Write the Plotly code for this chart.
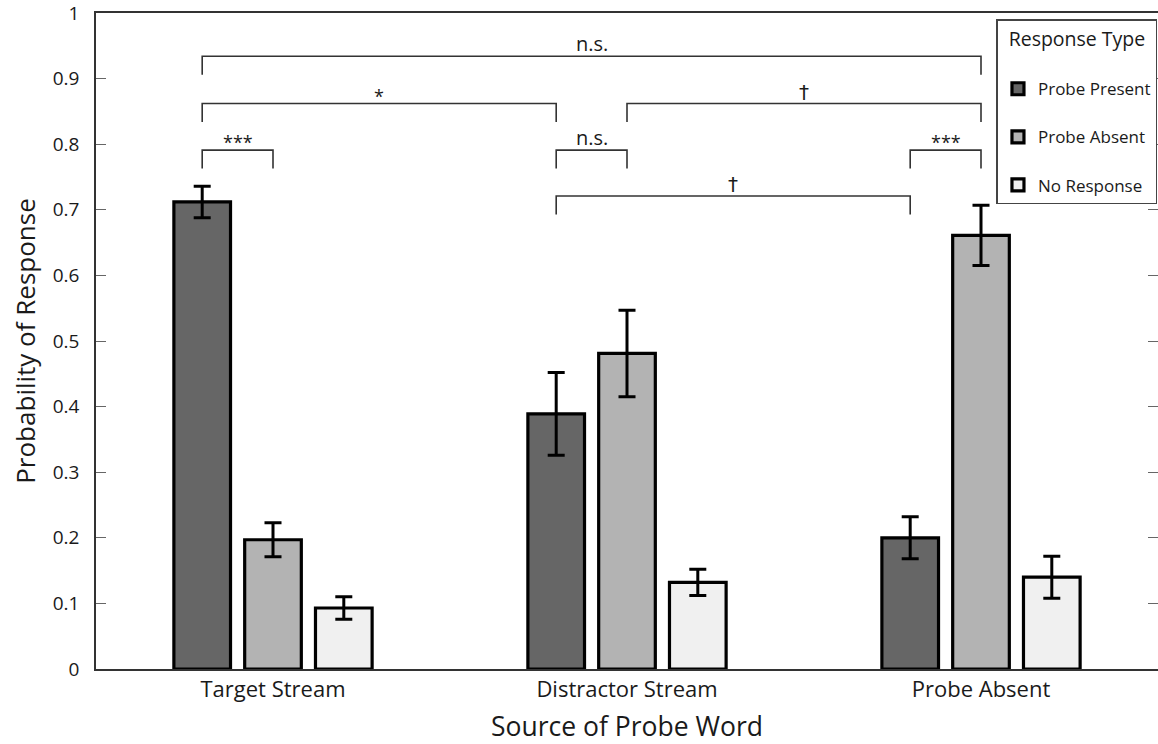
import plotly.graph_objects as go

# ---- data ----
categories = ["Target Stream", "Distractor Stream", "Probe Absent"]
series_names = ["Probe Present", "Probe Absent", "No Response"]
probe_present = [0.712, 0.389, 0.200]
probe_absent = [0.197, 0.481, 0.661]
no_response = [0.093, 0.132, 0.140]
err_present = [0.024, 0.063, 0.032]
err_absent = [0.026, 0.066, 0.046]
err_none = [0.017, 0.020, 0.032]
colors = ["#666666", "#b3b3b3", "#f0f0f0"]
y_tickvals = [0, 0.1, 0.2, 0.3, 0.4, 0.5, 0.6, 0.7, 0.8, 0.9, 1.0]
y_ticktext = ["0", "0.1", "0.2", "0.3", "0.4", "0.5", "0.6", "0.7", "0.8", "0.9", "1"]

# significance brackets: (group_a, series_a, group_b, series_b, level, label)
brackets = [
    (0, 0, 0, 1, 0.791, "***"),
    (0, 0, 1, 0, 0.862, "*"),
    (0, 0, 2, 1, 0.934, "n.s."),
    (1, 0, 1, 1, 0.791, "n.s."),
    (1, 1, 2, 1, 0.862, "\u2020"),
    (2, 0, 2, 1, 0.791, "***"),
    (1, 0, 2, 0, 0.721, "\u2020"),
]
leg_len = 0.028

FONT = "Open Sans"
TXT = "#1a1a1a"
values = [probe_present, probe_absent, no_response]
errors = [err_present, err_absent, err_none]

fig = go.Figure()
for i, (name, vals, errs, col) in enumerate(zip(series_names, values, errors, colors)):
    fig.add_trace(go.Bar(
        x=categories, y=vals, name=name, legendgroup=name,
        marker=dict(color=col, line=dict(color="black", width=3.2)),
        error_y=dict(type="data", array=errs, color="black", thickness=3, width=8.5),
    ))
# empty helper trace so the right-hand tick axis is drawn
fig.add_trace(go.Scatter(x=[], y=[], yaxis="y2", showlegend=False, hoverinfo="skip"))

bargap = 0.4
n_series = len(series_names)
slot = (1 - bargap) / n_series


def bar_center(g, s):
    return g - (1 - bargap) / 2 + slot * (s + 0.5)


shapes = []
annotations = []
for ga, sa, gb, sb, lev, lab in brackets:
    xa = bar_center(ga, sa)
    xb = bar_center(gb, sb)
    shapes.append(dict(
        type="path", xref="x", yref="y",
        path=f"M {xa},{lev - leg_len} L {xa},{lev} L {xb},{lev} L {xb},{lev - leg_len}",
        line=dict(color="#333333", width=1.6),
    ))
    if lab in ("***", "*"):
        fsize, ys, fam = 18, -6, FONT
    elif lab == "n.s.":
        fsize, ys, fam = 20, -3, FONT
    else:
        fsize, ys, fam = 20, -2, "DejaVu Sans"
    annotations.append(dict(
        x=(xa + xb) / 2, y=lev, xref="x", yref="y", text=lab, showarrow=False,
        yanchor="bottom", yshift=ys,
        font=dict(family=fam, size=fsize, color=TXT),
    ))

fig.update_layout(
    width=1158, height=744,
    margin=dict(l=96, r=0, t=13, b=75),
    paper_bgcolor="white", plot_bgcolor="white",
    barmode="group", bargap=bargap, bargroupgap=0.2,
    font=dict(family=FONT, size=18, color=TXT),
    showlegend=True,
    legend=dict(
        x=0.9995, xanchor="right", y=1 - 6 / 656, yanchor="top",
        bgcolor="white", bordercolor="#444", borderwidth=1.5,
        font=dict(family=FONT, size=17, color=TXT),
        title=dict(text="Response Type<br>\u00a0", side="top center",
                   font=dict(family=FONT, size=19.5, color=TXT)),
        traceorder="grouped", tracegroupgap=23,
    ),
    shapes=shapes, annotations=annotations,
    xaxis=dict(
        categoryorder="array", categoryarray=categories,
        range=[-0.5, 2.5], showline=True, linecolor="#333", linewidth=1.5,
        mirror=True, ticks="", showgrid=False,
        tickfont=dict(family=FONT, size=22, color=TXT),
        title=dict(text="Source of Probe Word", font=dict(family=FONT, size=26.5, color=TXT), standoff=18),
    ),
    yaxis=dict(
        range=[0, 1], tickmode="array", tickvals=y_tickvals, ticktext=y_ticktext,
        showline=True, linecolor="#333", linewidth=1.5,
        ticks="inside", ticklen=10, tickcolor="#666", tickwidth=1.2, showgrid=False,
        zeroline=False, ticklabelstandoff=11, ticklabeloverflow="allow",
        tickfont=dict(family=FONT, size=19, color=TXT),
        title=dict(text="Probability of Response", font=dict(family=FONT, size=26, color=TXT), standoff=10),
    ),
    yaxis2=dict(
        overlaying="y", side="right", range=[0, 1], tickmode="array", tickvals=y_tickvals,
        showline=False, ticks="inside", ticklen=10, tickcolor="#666", tickwidth=1.2,
        showticklabels=False, showgrid=False, zeroline=False,
    ),
)

fig.write_html(
    "out.html",
    config={"displayModeBar": False},
    post_script="document.body.style.margin='0';document.documentElement.style.overflow='hidden';",
)
